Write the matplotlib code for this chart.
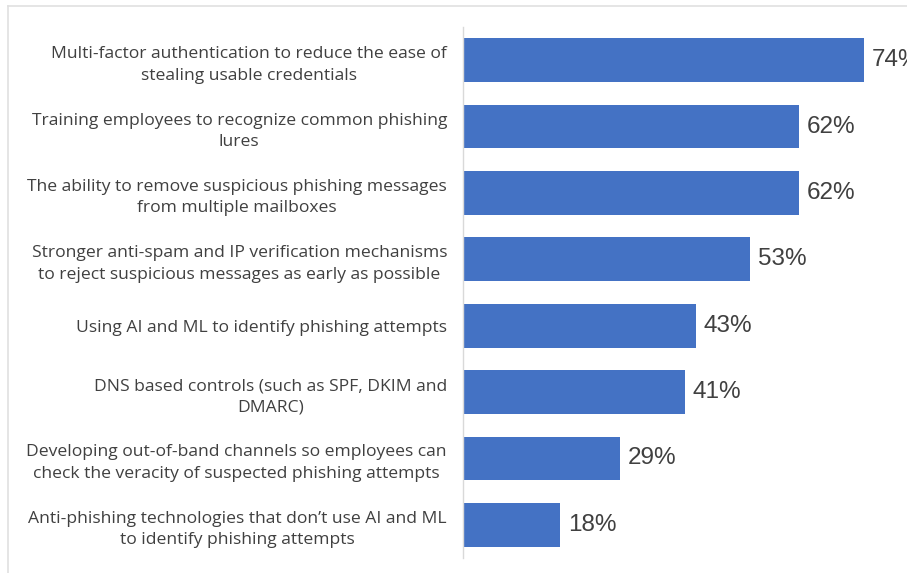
import matplotlib
matplotlib.use("Agg")
import matplotlib.pyplot as plt
from matplotlib.lines import Line2D
from matplotlib.transforms import ScaledTranslation

labels = [
    "Multi-factor authentication to reduce the ease of\nstealing usable credentials",
    "Training employees to recognize common phishing\nlures",
    "The ability to remove suspicious phishing messages\nfrom multiple mailboxes",
    "Stronger anti-spam and IP verification mechanisms\nto reject suspicious messages as early as possible",
    "Using AI and ML to identify phishing attempts",
    "DNS based controls (such as SPF, DKIM and\nDMARC)",
    "Developing out-of-band channels so employees can\ncheck the veracity of suspected phishing attempts",
    "Anti-phishing technologies that don\u2019t use AI and ML\nto identify phishing attempts",
]
values = [74, 62, 62, 53, 43, 41, 29, 18]

BLUE = "#4472C4"
TXT = "#404040"

plt.rcParams["font.family"] = ["Liberation Sans", "DejaVu Sans"]

fig = plt.figure(figsize=(9.07, 5.73), dpi=100)
ax = fig.add_axes([463 / 907, 1 - 558 / 573, 1 - 463 / 907, (558 - 27) / 573])

y = list(range(len(values)))
ax.barh(y, values, height=0.66, color=BLUE)
ax.set_ylim(len(values) - 0.5, -0.5)
ax.set_xlim(0, 82)

for yi, v in zip(y, values):
    ax.annotate(f"{v}%", (v, yi), xytext=(5.5, 0), textcoords="offset points",
                va="center", ha="left", fontsize=17.5, color=TXT, clip_on=False)

ax.set_yticks(y)
ax.set_yticklabels(labels, fontsize=12.6, color=TXT, ha="center",
                   multialignment="center", family=["Open Sans", "DejaVu Sans"],
                   linespacing=1.45)
ax.tick_params(axis="y", length=0, pad=0)

# centered labels: shift each so its right edge sits just left of the axis
fig.canvas.draw()
r = fig.canvas.get_renderer()
for t in ax.get_yticklabels():
    bb = t.get_window_extent(r)
    dx = (463 - 16) - bb.x1
    t.set_transform(t.get_transform() + ScaledTranslation(dx / 100, 0, fig.dpi_scale_trans))

ax.set_xticks([])
for s in ["top", "right", "bottom"]:
    ax.spines[s].set_visible(False)
ax.spines["left"].set_color("#D9D9D9")
ax.spines["left"].set_linewidth(1)

# light outer frame (top and left edges)
fig.add_artist(Line2D([8 / 907, 1], [1 - 6 / 573, 1 - 6 / 573], color="#E0E0E0", lw=1.2))
fig.add_artist(Line2D([8 / 907, 8 / 907], [0, 1 - 6 / 573], color="#E0E0E0", lw=1.2))

fig.savefig("out.png", dpi=100)
